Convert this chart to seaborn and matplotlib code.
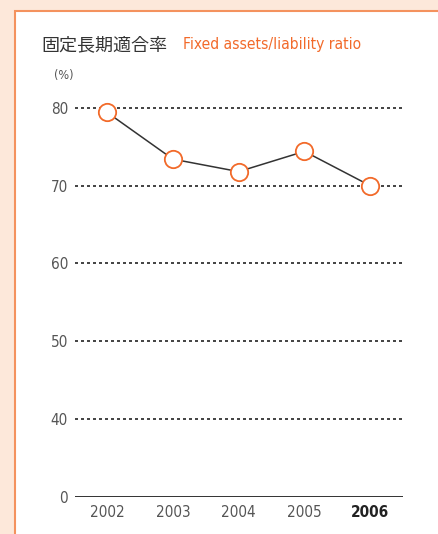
import matplotlib.pyplot as plt
import pandas as pd
import seaborn as sns
from matplotlib.patches import Rectangle

# data
years = ['2002', '2003', '2004', '2005', '2006']
ratio = [79.4, 73.4, 71.8, 74.4, 70.0]
# the axis is broken: 0 sits one step below 40
tick_pos = [30, 40, 50, 60, 70, 80]
tick_lab = ['0', '40', '50', '60', '70', '80']

df = pd.DataFrame({'year': years, 'ratio': ratio})

sns.set_style('white')
narrow = ['DejaVu Sans']
plt.rcParams['font.family'] = narrow
plt.rcParams['font.stretch'] = 'condensed'

orange = '#f26a2a'
W, H = 439, 534
fig = plt.figure(figsize=(W / 100, H / 100), dpi=100, facecolor='#fde8da')

# white panel with orange border
fig.patches.append(Rectangle((15 / W, -0.1), 1.0, (H - 11) / H + 0.1,
                             transform=fig.transFigure, facecolor='white',
                             edgecolor='#f4925e', linewidth=1.5, zorder=-5))

ax = fig.add_axes([75 / W, (H - 497) / H, 328 / W, 397 / H])
ax.set_facecolor('none')

for v in tick_pos[1:]:
    ax.axhline(v, color='#222222', lw=1.2, ls=(0, (1.8, 1.8)), zorder=1)
ax.axhline(30, color='#222222', lw=1.3, zorder=1)

sns.lineplot(data=df, x='year', y='ratio', ax=ax, color='#333333', lw=1.1,
             marker='o', markersize=12.5, markerfacecolor='white',
             markeredgecolor=orange, markeredgewidth=1.3, zorder=3)

ax.set_xlim(-0.49, 4.5)
ax.set_ylim(30, 81.0)
ax.set_yticks(tick_pos)
ax.set_yticklabels(tick_lab)
ax.set_xlabel('')
ax.set_ylabel('')
sns.despine(ax=ax, left=True, bottom=True)
ax.tick_params(axis='y', length=0, pad=5, labelsize=11, labelcolor='#555555')
ax.tick_params(axis='x', length=0, pad=6, labelsize=11, labelcolor='#555555')
for lab in ax.get_xticklabels():
    if lab.get_text() == '2006':
        lab.set_fontweight('bold')
        lab.set_color('#222222')

fig.text(41 / W, 1 - 45 / H, '固定長期適合率', fontsize=13,
         family=['Noto Sans CJK JP', 'DejaVu Sans'], color='#333333',
         va='center', ha='left')
fig.text(183 / W, 1 - 45 / H, 'Fixed assets/liability ratio', fontsize=11.2,
         family=narrow, color=orange, va='center', ha='left')
fig.text(54 / W, 1 - 76 / H, '(%)', fontsize=9, family=narrow,
         color='#555555', va='center', ha='left')

fig.savefig('out.png', dpi=100, facecolor=fig.get_facecolor())
